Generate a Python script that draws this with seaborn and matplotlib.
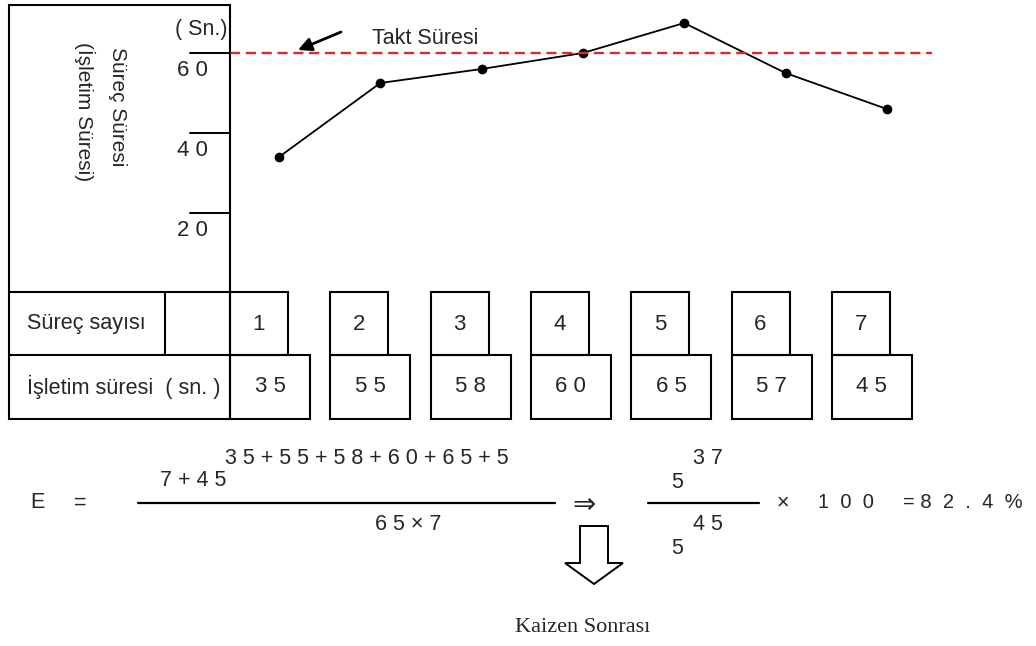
import numpy as np
import pandas as pd
import seaborn as sns
import matplotlib.pyplot as plt
from matplotlib.patches import Rectangle, Polygon
from matplotlib.transforms import blended_transform_factory

# process number, plotted cycle time and the table values
processes = [1, 2, 3, 4, 5, 6, 7]
line_values = [34, 52.5, 56, 60, 67.5, 55, 46]
operating_times = [35, 55, 58, 60, 65, 57, 45]
takt_time = 60
y_ticks = [20, 40, 60]
y_tick_labels = ['2 0', '4 0', '6 0']

sns.set_theme(style='white')
plt.rcParams['font.family'] = ['Liberation Sans', 'DejaVu Sans']

fig = plt.figure(figsize=(10.36, 6.46), dpi=100)

# overlay in pixel coordinates for the table and the formula
bg = fig.add_axes([0, 0, 1, 1])
bg.set_xlim(0, 1036)
bg.set_ylim(646, 0)
bg.axis('off')

# chart area
ax = fig.add_axes([230 / 1036, (646 - 293) / 646, 702 / 1036, 288 / 646])
ax.patch.set_alpha(0)
ax.set_xlim(1 - 49 / 101.3, 1 + 653 / 101.3)
ax.set_ylim(0, 72)
ax.axis('off')

df = pd.DataFrame({'Süreç': processes, 'Süre': line_values})
sns.lineplot(data=df, x='Süreç', y='Süre', ax=ax, color='black', lw=1.3,
             marker='o', markersize=7, markeredgewidth=0)
ax.axhline(takt_time, color='#dc2a2c', lw=1.7, ls=(0, (4.3, 2.4)))

trans = blended_transform_factory(ax.transAxes, ax.transData)
for v, lab in zip(y_ticks, y_tick_labels):
    ax.plot([-40 / 702, 0], [v, v], color='black', lw=1.4, transform=trans, clip_on=False)
    ax.annotate(lab, xy=(-38 / 702, v), xycoords=trans, xytext=(0, -5),
                textcoords='offset points', ha='center', va='top', fontsize=16)

lc = 'black'
lw = 1.5
bg.add_patch(Rectangle((9, 5), 221, 414, fill=False, ec=lc, lw=lw))
bg.plot([9, 230], [292, 292], color=lc, lw=lw)
bg.plot([9, 230], [355, 355], color=lc, lw=lw)
bg.plot([165, 165], [292, 355], color=lc, lw=lw)
for i, (p, t) in enumerate(zip(processes, operating_times)):
    x0 = 230 + i * 100.3
    bg.add_patch(Rectangle((x0, 292), 58, 63, fill=False, ec=lc, lw=lw))
    bg.add_patch(Rectangle((x0, 355), 80, 64, fill=False, ec=lc, lw=lw))
    bg.text(x0 + 29, 324, str(p), ha='center', va='center', fontsize=16)
    bg.text(x0 + 40, 387, ' '.join(str(t)), ha='center', va='center', fontsize=16)

bg.text(27, 324, 'Süreç sayısı', ha='left', va='center', fontsize=15.6)
bg.text(27, 387, 'İşletim süresi  ( sn. )', ha='left', va='center', fontsize=15.6)
bg.text(117, 107, 'Süreç Süresi', rotation=-90, ha='center', va='center', fontsize=15)
bg.text(85, 112, '(İşletim Süresi)', rotation=-90, ha='center', va='center', fontsize=15)
bg.text(201, 29, '( Sn.)', ha='center', va='center', fontsize=15.5)

bg.annotate('', xy=(298, 50), xytext=(341, 32),
            arrowprops=dict(arrowstyle='-|>', color='black', lw=2,
                            mutation_scale=20, shrinkA=0, shrinkB=0))
bg.text(372, 38, 'Takt Süresi', ha='left', va='center', fontsize=15.5)

# efficiency formula
fs = 15.5
bg.text(37, 503, 'E', ha='center', va='center', fontsize=fs)
bg.text(80, 503, '=', ha='center', va='center', fontsize=fs)
bg.plot([138, 555], [503, 503], color=lc, lw=1.6)
bg.text(225, 458, '3 5 + 5 5 + 5 8 + 6 0 + 6 5 + 5', ha='left', va='center', fontsize=fs)
bg.text(160, 481, '7 + 4 5', ha='left', va='center', fontsize=fs)
bg.text(375, 525, '6 5 × 7', ha='left', va='center', fontsize=fs)
bg.text(584, 506, '⇒', ha='center', va='center', fontsize=20)
bg.plot([648, 759], [503, 503], color=lc, lw=1.6)
bg.text(693, 458, '3 7', ha='left', va='center', fontsize=fs)
bg.text(677, 483, '5', ha='center', va='center', fontsize=fs)
bg.text(693, 525, '4 5', ha='left', va='center', fontsize=fs)
bg.text(677, 548, '5', ha='center', va='center', fontsize=fs)
bg.text(783, 503, '×', ha='center', va='center', fontsize=fs)
bg.text(818, 503, '1  0  0', ha='left', va='center', fontsize=14.5)
bg.text(903, 503, '= 8  2  .  4  %', ha='left', va='center', fontsize=14.5)

bg.add_patch(Polygon([(580, 526), (608, 526), (608, 563), (623, 563), (594, 584),
                      (565, 563), (580, 563)], closed=True, fc='white', ec=lc, lw=1.4))
bg.text(583, 628, 'Kaizen Sonrası', ha='center', va='center', fontsize=16,
        family=['Liberation Serif', 'DejaVu Serif'])

plt.savefig('out.png', dpi=100)
